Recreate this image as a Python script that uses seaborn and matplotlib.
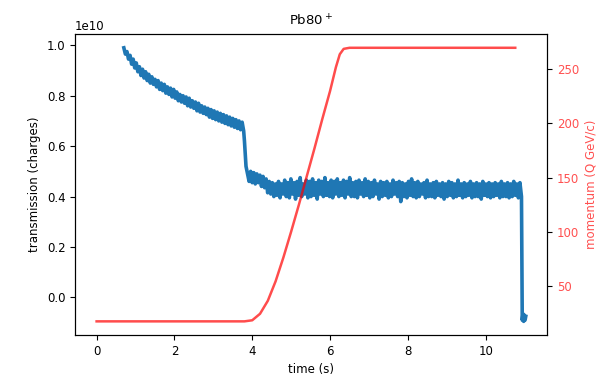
import numpy as np
import matplotlib
matplotlib.use("Agg")
import matplotlib.pyplot as plt
import seaborn as sns

# transmission (units of 1e10 charges) in three pieces
# piece 1: slow decay, 0.70 s .. 3.78 s
t_decay = (0.70, 3.78)
trans_decay = [
    0.99, 0.965, 0.975, 0.945, 0.96, 0.925, 0.945, 0.91, 0.93, 0.895,
    0.915, 0.88, 0.905, 0.87, 0.895, 0.86, 0.885, 0.85, 0.875, 0.845,
    0.865, 0.835, 0.86, 0.825, 0.85, 0.82, 0.845, 0.81, 0.835, 0.805,
    0.83, 0.795, 0.825, 0.79, 0.815, 0.78, 0.805, 0.775, 0.80, 0.77,
    0.795, 0.76, 0.79, 0.755, 0.78, 0.75, 0.775, 0.74, 0.77, 0.735,
    0.76, 0.73, 0.755, 0.725, 0.75, 0.715, 0.745, 0.71, 0.74, 0.705,
    0.735, 0.70, 0.73, 0.695, 0.725, 0.69, 0.72, 0.685, 0.715, 0.68,
    0.71, 0.675, 0.705, 0.67, 0.70, 0.665, 0.695, 0.66,
]
# piece 2: drop and plateau, 3.80 s .. 10.92 s
t_plateau = (3.80, 10.92)
trans_plateau = [
    0.62, 0.52, 0.49, 0.46, 0.50, 0.455, 0.495, 0.45, 0.49, 0.455,
    0.485, 0.44, 0.48, 0.435, 0.47, 0.415, 0.46, 0.41, 0.455, 0.40,
    0.45, 0.405, 0.46, 0.395, 0.45, 0.41, 0.465, 0.40, 0.455, 0.395,
    0.47, 0.41, 0.455, 0.39, 0.46, 0.405, 0.475, 0.40, 0.45, 0.41,
    0.465, 0.395, 0.46, 0.40, 0.47, 0.405, 0.455, 0.39, 0.465, 0.41,
    0.46, 0.40, 0.475, 0.405, 0.455, 0.40, 0.465, 0.395, 0.46, 0.41,
    0.47, 0.40, 0.455, 0.405, 0.465, 0.395, 0.46, 0.41, 0.475, 0.40,
    0.455, 0.40, 0.46, 0.395, 0.465, 0.41, 0.455, 0.40, 0.47, 0.405,
    0.46, 0.395, 0.455, 0.40, 0.465, 0.41, 0.45, 0.39, 0.46, 0.40,
    0.455, 0.405, 0.46, 0.395, 0.45, 0.40, 0.465, 0.41, 0.455, 0.40,
    0.46, 0.38, 0.455, 0.40, 0.45, 0.395, 0.46, 0.405, 0.47, 0.40,
    0.455, 0.395, 0.46, 0.40, 0.45, 0.41, 0.455, 0.395, 0.465, 0.40,
    0.45, 0.40, 0.455, 0.395, 0.46, 0.405, 0.45, 0.40, 0.455, 0.39,
    0.45, 0.40, 0.46, 0.405, 0.455, 0.395, 0.45, 0.40, 0.465, 0.405,
    0.45, 0.395, 0.455, 0.40, 0.45, 0.405, 0.46, 0.395, 0.45, 0.40,
    0.455, 0.40, 0.45, 0.39, 0.46, 0.405, 0.45, 0.40, 0.455, 0.395,
    0.45, 0.40, 0.455, 0.405, 0.45, 0.395, 0.46, 0.40, 0.45, 0.40,
    0.455, 0.395, 0.45, 0.40, 0.46, 0.405, 0.45, 0.395, 0.455, 0.40,
]
# piece 3: beam dump tail, 10.94 s .. 11.03 s
t_tail = (10.94, 11.03)
trans_tail = [-0.09, -0.065, -0.095, -0.07, -0.09, -0.075]

# momentum ramp (Q GeV/c)
mom_time = [0.0, 3.8, 4.0, 4.2, 4.4, 4.6, 4.8, 5.0, 5.2, 5.4, 5.6, 5.8,
            6.0, 6.15, 6.25, 6.35, 6.5, 10.76]
momentum = [17, 17, 18, 24, 36, 54, 76, 100, 125, 151, 177, 204,
            230, 252, 264, 269, 270, 270]

time = np.concatenate([np.linspace(*t_decay, len(trans_decay)),
                       np.linspace(*t_plateau, len(trans_plateau)),
                       np.linspace(*t_tail, len(trans_tail))])
trans = np.concatenate([trans_decay, trans_plateau, trans_tail]) * 1e10

plt.rcParams["font.size"] = 8.5
fig = plt.figure(figsize=(6.06, 3.79), dpi=100)
ax = fig.add_axes([0.124, 0.116, 0.779, 0.794])
ax2 = ax.twinx()

sns.lineplot(x=time, y=trans, ax=ax, color="tab:blue", lw=2.6,
             estimator=None, sort=False)
sns.lineplot(x=mom_time, y=momentum, ax=ax2, color="red", alpha=0.7, lw=1.8,
             estimator=None, sort=False)

ax.set_xlabel("time (s)")
ax.set_ylabel("transmission (charges)")
ax.set_title("Pb80$^+$", fontsize=9.5)
ax.set_xticks([0, 2, 4, 6, 8, 10])

red = "#ff5050"
ax2.set_ylabel("momentum (Q GeV/c)", color=red)
ax2.tick_params(axis="y", labelcolor=red)
ax2.set_yticks([50, 100, 150, 200, 250])

fig.savefig("out.png", dpi=100)
